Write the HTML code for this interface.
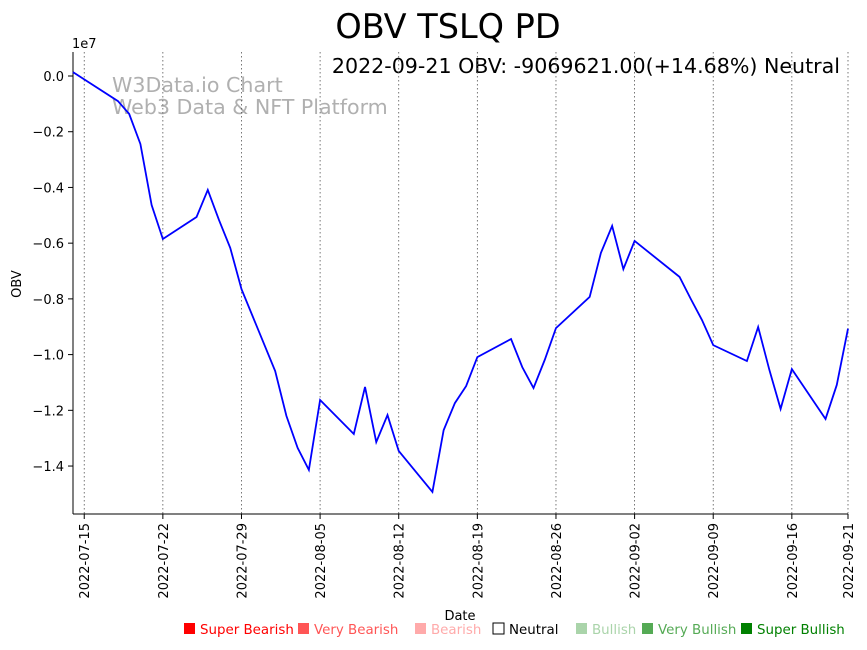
<!DOCTYPE html>
<html><head><meta charset="utf-8"><style>
body{margin:0;background:#fff;font-family:"DejaVu Sans","Liberation Sans",sans-serif;}
svg text{font-family:"DejaVu Sans","Liberation Sans",sans-serif;}
</style></head><body>
<svg id="c" width="867" height="646" xmlns="http://www.w3.org/2000/svg">
<text x="448" y="38" font-size="33.5" text-anchor="middle">OBV TSLQ PD</text>
<text x="840" y="73" font-size="20.6" text-anchor="end">2022-09-21 OBV: -9069621.00(+14.68%) Neutral</text>
<text x="112" y="92" font-size="20.6" fill="#b0b0b0">W3Data.io Chart</text>
<text x="112" y="114" font-size="20.6" fill="#b0b0b0">Web3 Data &amp; NFT Platform</text>
<text x="72" y="48" font-size="13">1e7</text>
<text x="21" y="284" font-size="13" text-anchor="middle" transform="rotate(-90 21 284)">OBV</text>
<text x="460" y="620" font-size="13" text-anchor="middle">Date</text>
<g id="grid"></g><g id="axes"></g><g id="series"></g>
<g id="legend" font-size="13.4"></g>
</svg>
<script>
const dates=["2022-07-14","2022-07-15","2022-07-18","2022-07-19","2022-07-20","2022-07-21","2022-07-22","2022-07-25","2022-07-26","2022-07-27","2022-07-28","2022-07-29","2022-08-01","2022-08-02","2022-08-03","2022-08-04","2022-08-05","2022-08-08","2022-08-09","2022-08-10","2022-08-11","2022-08-12","2022-08-15","2022-08-16","2022-08-17","2022-08-18","2022-08-19","2022-08-22","2022-08-23","2022-08-24","2022-08-25","2022-08-26","2022-08-29","2022-08-30","2022-08-31","2022-09-01","2022-09-02","2022-09-06","2022-09-07","2022-09-08","2022-09-09","2022-09-12","2022-09-13","2022-09-14","2022-09-15","2022-09-16","2022-09-19","2022-09-20","2022-09-21"];
const obv=[0.014,-0.012,-0.09,-0.136,-0.244,-0.463,-0.585,-0.506,-0.409,-0.517,-0.617,-0.765,-1.059,-1.22,-1.335,-1.414,-1.163,-1.285,-1.116,-1.314,-1.217,-1.346,-1.493,-1.271,-1.174,-1.113,-1.009,-0.944,-1.045,-1.12,-1.019,-0.905,-0.793,-0.635,-0.538,-0.693,-0.592,-0.721,-0.8,-0.876,-0.966,-1.023,-0.901,-1.055,-1.195,-1.052,-1.231,-1.109,-0.907];
const yTicks=[0.0,-0.2,-0.4,-0.6,-0.8,-1.0,-1.2,-1.4];
const xTicks=["2022-07-15","2022-07-22","2022-07-29","2022-08-05","2022-08-12","2022-08-19","2022-08-26","2022-09-02","2022-09-09","2022-09-16","2022-09-21"];
const legendLabels=["Super Bearish","Very Bearish","Bearish","Neutral","Bullish","Very Bullish","Super Bullish"];
const legendColors=["#ff0000","#ff5555","#ffaaaa","#ffffff","#aad4aa","#55aa55","#008000"];
const NS="http://www.w3.org/2000/svg";
const L=73,R=848,T=52,B=514;
const d0=Date.parse("2022-07-14"),d1=Date.parse("2022-09-21");
const xS=d=>L+(Date.parse(d)-d0)/(d1-d0)*(R-L);
const yS=v=>76+(-v)*278.6;
function mk(t,a,p){const e=document.createElementNS(NS,t);for(const k in a)e.setAttribute(k,a[k]);p.appendChild(e);return e;}
const grid=document.getElementById('grid'),axes=document.getElementById('axes'),ser=document.getElementById('series'),leg=document.getElementById('legend');
xTicks.forEach(d=>{const x=xS(d);
 const g=mk('line',{x1:x,x2:x,y1:T,y2:B,stroke:'#555','stroke-width':0.8,'stroke-dasharray':'1.5,2.5'},grid);
 
 mk('line',{x1:x,x2:x,y1:B,y2:B+5,stroke:'#000'},axes);
 const t=mk('text',{x:x+5,y:B+9,'font-size':13,'text-anchor':'end',transform:`rotate(-90 ${x+5} ${B+9})`},axes);t.textContent=d;
 });
yTicks.forEach(v=>{const y=yS(v);
 mk('line',{x1:L-5,x2:L,y1:y,y2:y,stroke:'#000'},axes);
 const t=mk('text',{x:L-9,y:y+5,'font-size':13,'text-anchor':'end'},axes);t.textContent=v.toFixed(1).replace('-','\u2212');
 });
const ya=mk('line',{x1:L,x2:L,y1:T,y2:B,stroke:'#000'},axes);
const xa=mk('line',{x1:L,x2:R,y1:B,y2:B,stroke:'#000'},axes);
const p=mk('polyline',{points:dates.map((d,i)=>xS(d)+','+yS(obv[i])).join(' '),fill:'none',stroke:'#0000ff','stroke-width':1.8},ser);

const lx=[184,298,415,493,576,642,741];
legendLabels.forEach((lab,i)=>{
 const r=mk('rect',{x:lx[i],y:623,width:11,height:11,fill:legendColors[i],stroke:i==3?'#000':'none'},leg);
 
 const t=mk('text',{x:lx[i]+16,y:634,fill:i==3?'#000':legendColors[i]},leg);t.textContent=lab;
 });
</script>
</body></html>
